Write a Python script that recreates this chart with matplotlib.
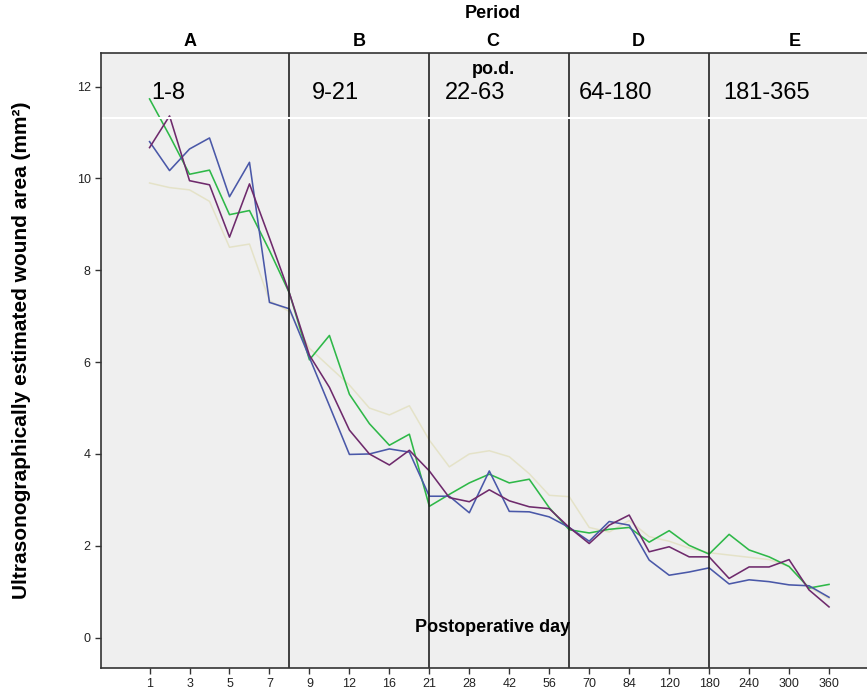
import matplotlib
matplotlib.use("Agg")
import matplotlib.pyplot as plt

plt.rcParams['font.family'] = ['Liberation Sans', 'DejaVu Sans']

# postoperative days on the category axis
days = [1, 2, 3, 4, 5, 6, 7, 8,
        9, 10, 12, 14, 16, 18, 21,
        24, 28, 35, 42, 49, 56, 63,
        70, 77, 84, 98, 120, 150, 180,
        210, 240, 270, 300, 330, 360]

# wound area (mm^2) per group
blue = [10.80, 10.17, 10.64, 10.88, 9.60, 10.35, 7.30, 7.16,
        6.10, 5.05, 3.99, 4.00, 4.11, 4.04, 3.08,
        3.08, 2.72, 3.63, 2.75, 2.74, 2.63, 2.40,
        2.10, 2.53, 2.45, 1.69, 1.36, 1.43, 1.52,
        1.17, 1.26, 1.22, 1.15, 1.13, 0.88]
green = [11.73, 10.93, 10.09, 10.18, 9.21, 9.30, 8.43, 7.50,
         6.05, 6.58, 5.30, 4.66, 4.19, 4.43, 2.86,
         3.12, 3.37, 3.56, 3.37, 3.45, 2.83, 2.35,
         2.28, 2.36, 2.40, 2.08, 2.33, 2.01, 1.82,
         2.25, 1.91, 1.76, 1.55, 1.08, 1.16]
beige = [9.90, 9.80, 9.75, 9.50, 8.50, 8.57, 7.34, 7.10,
         6.30, 5.90, 5.50, 5.00, 4.85, 5.05, 4.30,
         3.72, 4.00, 4.07, 3.94, 3.57, 3.10, 3.07,
         2.40, 2.30, 2.55, 2.20, 2.10, 1.95, 1.85,
         1.80, 1.75, 1.70, 1.55, 1.10, 0.85]
purple = [10.67, 11.36, 9.95, 9.86, 8.72, 9.88, 8.70, 7.50,
          6.15, 5.45, 4.52, 4.00, 3.76, 4.08, 3.63,
          3.05, 2.96, 3.22, 2.98, 2.85, 2.81, 2.40,
          2.05, 2.45, 2.67, 1.87, 1.98, 1.76, 1.76,
          1.29, 1.54, 1.54, 1.70, 1.04, 0.67]

period_names = ['A', 'B', 'C', 'D', 'E']
period_ranges = ['1-8', '9-21', '22-63', '64-180', '181-365']
period_ends = [8, 21, 63, 180]

W, H = 867, 697
fig = plt.figure(figsize=(W / 100, H / 100), dpi=100)
ax = fig.add_axes([101 / W, 1 - 668 / H, 1 - 101 / W, (668 - 53) / H])
ax.set_facecolor('#efefef')

x = list(range(len(days)))
ax.plot(x, beige, color='#dcd8a8', lw=1.1, alpha=0.55)
ax.plot(x, green, color='#2eb848', lw=1.15)
ax.plot(x, blue, color='#4a58a8', lw=1.15)
ax.plot(x, purple, color='#6e2a6c', lw=1.15)

for d in period_ends:
    ax.axvline(days.index(d), color='#222222', lw=1.2)
ax.axhline(11.32, color='white', lw=1.5)

ax.set_xlim(-2.43, 35.9)
ax.set_ylim(-0.66, 12.73)
ax.set_yticks(range(0, 13, 2))
ax.set_xticks(x[::2])
ax.set_xticklabels([str(d) for d in days[::2]])
ax.tick_params(labelsize=9, length=4, width=1, color='#333333', labelcolor='#222222')
ax.spines['right'].set_visible(False)
for s in ['left', 'bottom', 'top']:
    ax.spines[s].set_color('#333333')
    ax.spines[s].set_linewidth(1.2)

# header: period letters and day ranges
fig.text(493 / W, 1 - 13 / H, 'Period', ha='center', va='center',
         fontsize=13, fontweight='bold')
for name, px in zip(period_names, [190, 359, 493, 638, 795]):
    fig.text(px / W, 1 - 41 / H, name, ha='center', va='center',
             fontsize=13, fontweight='bold')
fig.text(493 / W, 1 - 69 / H, 'po.d.', ha='center', va='center',
         fontsize=13, fontweight='bold')
for rng, px in zip(period_ranges, [151, 312, 445, 579, 723]):
    fig.text(px / W, 1 - 93 / H, rng, ha='left', va='center', fontsize=17)

fig.text(493 / W, 1 - 627 / H, 'Postoperative day', ha='center', va='center',
         fontsize=13, fontweight='bold')
fig.text(22 / W, 1 - 350 / H, 'Ultrasonographically estimated wound area (mm²)',
         ha='center', va='center', rotation=90, fontsize=15, fontweight='bold')

fig.savefig('out.png', dpi=100, facecolor='white')
